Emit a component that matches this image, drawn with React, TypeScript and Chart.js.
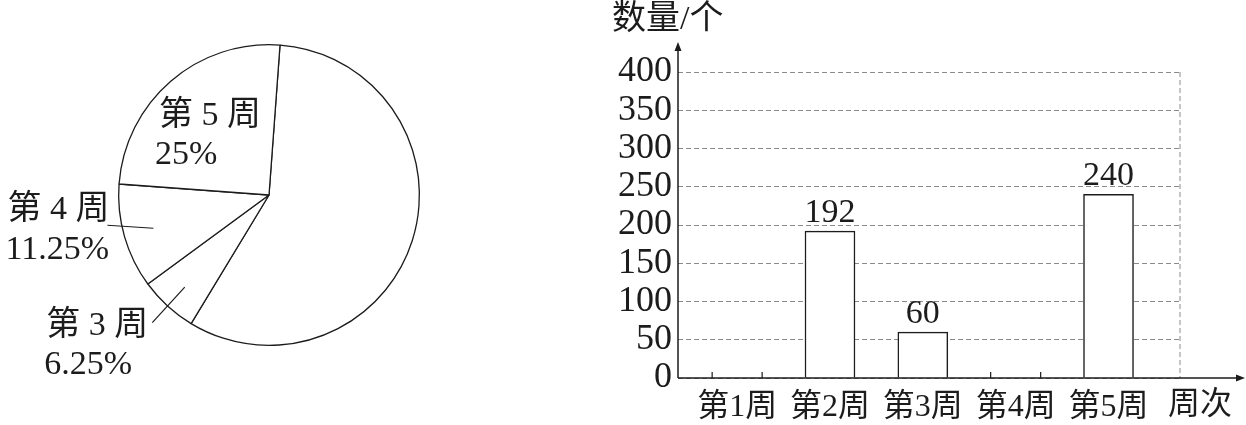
import { useEffect, useRef } from 'react';
import { Chart, registerables, Plugin } from 'chart.js';

Chart.register(...registerables);

// bar chart data
const WEEKS = ['第1周', '第2周', '第3周', '第4周', '第5周'];
const WEEK_COUNTS: (number | null)[] = [null, 192, 60, null, 240];
const Y_TICKS = [0, 50, 100, 150, 200, 250, 300, 350, 400];
const Y_TITLE = '数量/个';
const X_TITLE = '周次';

// pie chart data (first slice is the unlabelled remainder)
const PIE_LABELS = ['', '第 3 周', '第 4 周', '第 5 周'];
const PIE_PERCENTS = [57.5, 6.25, 11.25, 25];

const SERIF = '"Liberation Serif", "Noto Sans CJK SC", serif';
const INK = '#1c1c1c';
const GRID = '#8a8a8a';
const BAR_WIDTH = 50;

const pieLabels: Plugin<'pie'> = {
  id: 'pieLabels',
  afterDraw(chart) {
    const { ctx } = chart;
    const arcs = chart.getDatasetMeta(0).data;
    ctx.save();
    ctx.font = `34px ${SERIF}`;
    ctx.fillStyle = INK;
    ctx.strokeStyle = INK;
    ctx.lineWidth = 1.2;
    ctx.textBaseline = 'middle';
    ctx.textAlign = 'left';
    arcs.forEach((arc, i) => {
      const name = PIE_LABELS[i];
      if (!name) return;
      const p = arc.getProps(['x', 'y', 'startAngle', 'endAngle', 'outerRadius'], true) as any;
      const mid = (p.startAngle + p.endAngle) / 2;
      const at = (k: number) => ({
        x: p.x + Math.cos(mid) * p.outerRadius * k,
        y: p.y + Math.sin(mid) * p.outerRadius * k,
      });
      const pct = `${PIE_PERCENTS[i]}%`;
      if (i === 3) {
        const a = at(0.62);
        ctx.fillText(name, a.x - 49, a.y - 8);
        ctx.fillText(pct, a.x - 53, a.y + 31);
      } else if (i === 2) {
        const a = at(0.8);
        const b = { x: a.x - 46, y: a.y - 3 };
        ctx.beginPath();
        ctx.moveTo(a.x, a.y);
        ctx.lineTo(b.x, b.y);
        ctx.stroke();
        ctx.fillText(name, b.x - 100, b.y - 15);
        ctx.fillText(pct, b.x - 102, b.y + 25);
      } else {
        const a = at(0.83);
        const b = at(1.15);
        ctx.beginPath();
        ctx.moveTo(a.x, a.y);
        ctx.lineTo(b.x, b.y);
        ctx.stroke();
        ctx.fillText(name, b.x - 106, b.y + 3);
        ctx.fillText(pct, b.x - 108, b.y + 42);
      }
    });
    ctx.restore();
  },
};

const barDecor: Plugin<'bar'> = {
  id: 'barDecor',
  afterDraw(chart) {
    const { ctx, chartArea, scales } = chart;
    const { left, right, top, bottom } = chartArea;
    const x = scales.x;
    const y = scales.y;
    ctx.save();

    // dashed right edge of the grid
    ctx.strokeStyle = GRID;
    ctx.lineWidth = 1;
    ctx.setLineDash([5, 3]);
    ctx.beginPath();
    ctx.moveTo(right, top);
    ctx.lineTo(right, bottom);
    ctx.stroke();
    ctx.setLineDash([]);

    // axes with arrows
    const yTip = top - 30;
    const xTip = chart.width - 1;
    ctx.strokeStyle = INK;
    ctx.fillStyle = INK;
    ctx.lineWidth = 1.5;
    ctx.beginPath();
    ctx.moveTo(left, bottom);
    ctx.lineTo(left, yTip + 6);
    ctx.moveTo(left, bottom);
    ctx.lineTo(xTip - 6, bottom);
    ctx.stroke();
    ctx.beginPath();
    ctx.moveTo(left, yTip);
    ctx.lineTo(left - 3.5, yTip + 9);
    ctx.lineTo(left + 3.5, yTip + 9);
    ctx.closePath();
    ctx.moveTo(xTip, bottom);
    ctx.lineTo(xTip - 9, bottom - 3.5);
    ctx.lineTo(xTip - 9, bottom + 3.5);
    ctx.closePath();
    ctx.fill();

    // small marks where the missing bars belong, value labels on the others
    ctx.font = `34px ${SERIF}`;
    ctx.textAlign = 'center';
    ctx.textBaseline = 'alphabetic';
    ctx.lineWidth = 1.2;
    WEEK_COUNTS.forEach((v, i) => {
      const cx = x.getPixelForValue(i);
      if (v === null) {
        ctx.beginPath();
        [cx - BAR_WIDTH / 2, cx + BAR_WIDTH / 2].forEach((px) => {
          ctx.moveTo(px, bottom);
          ctx.lineTo(px, bottom - 6);
        });
        ctx.stroke();
        return;
      }
      ctx.fillText(String(v), cx, y.getPixelForValue(v) - 9);
    });

    // axis titles
    ctx.font = `34px ${SERIF}`;
    ctx.textAlign = 'left';
    ctx.textBaseline = 'middle';
    ctx.fillText(Y_TITLE, 12, 20);
    ctx.font = `32px ${SERIF}`;
    ctx.textAlign = 'center';
    ctx.fillText(X_TITLE, 600, 406);
    ctx.restore();
  },
};

function PieChart() {
  const canvasRef = useRef<HTMLCanvasElement>(null);

  useEffect(() => {
    if (!canvasRef.current) return;
    const chart = new Chart(canvasRef.current, {
      type: 'pie',
      data: {
        labels: PIE_LABELS,
        datasets: [
          {
            data: PIE_PERCENTS,
            backgroundColor: '#ffffff',
            borderColor: INK,
            borderWidth: 1.3,
          },
        ],
      },
      options: {
        responsive: false,
        animation: false,
        rotation: 4.2,
        layout: { padding: { left: 118, right: 30, top: 44, bottom: 79 } },
        plugins: { legend: { display: false }, tooltip: { enabled: false } },
      },
      plugins: [pieLabels],
    });
    return () => chart.destroy();
  }, []);

  return (
    <canvas
      ref={canvasRef}
      width={450}
      height={425}
      style={{ position: 'absolute', left: 0, top: 0, width: 450, height: 425 }}
    />
  );
}

function BarChart() {
  const canvasRef = useRef<HTMLCanvasElement>(null);

  useEffect(() => {
    if (!canvasRef.current) return;
    const chart = new Chart(canvasRef.current, {
      type: 'bar',
      data: {
        datasets: [
          {
            data: WEEK_COUNTS.map((v, i) => ({ x: i, y: v })) as any,
            backgroundColor: '#ffffff',
            borderColor: INK,
            borderWidth: 1.5,
            barThickness: BAR_WIDTH,
          },
        ],
      },
      options: {
        responsive: false,
        animation: false,
        layout: { padding: { left: 0, right: 66, top: 72, bottom: 0 } },
        plugins: { legend: { display: false }, tooltip: { enabled: false } },
        scales: {
          x: {
            type: 'linear',
            offset: false,
            min: -0.637,
            max: 4.77,
            afterBuildTicks: (s) => {
              s.ticks = WEEKS.map((_, i) => ({ value: i }));
            },
            afterFit: (s) => {
              s.height = 47;
            },
            grid: { display: false, drawTicks: false, offset: false },
            border: { display: false },
            ticks: {
              padding: 10,
              color: INK,
              autoSkip: false,
              maxRotation: 0,
              font: { family: SERIF, size: 32 },
              callback: (v) => WEEKS[v as number] ?? '',
            },
          },
          y: {
            min: 0,
            max: 400,
            afterBuildTicks: (s) => {
              s.ticks = Y_TICKS.map((v) => ({ value: v }));
            },
            afterFit: (s) => {
              s.width = 78;
            },
            grid: { color: GRID, lineWidth: 1, drawTicks: false },
            border: { display: false, dash: [5, 3] },
            ticks: {
              padding: 6,
              color: INK,
              autoSkip: false,
              font: { family: SERIF, size: 36 },
            },
          },
        },
      },
      plugins: [barDecor],
    });
    return () => chart.destroy();
  }, []);

  return (
    <canvas
      ref={canvasRef}
      width={646}
      height={425}
      style={{ position: 'absolute', left: 600, top: 0, width: 646, height: 425 }}
    />
  );
}

export default function App() {
  return (
    <div
      style={{
        position: 'fixed',
        left: 0,
        top: 0,
        width: 1246,
        height: 425,
        background: '#ffffff',
        overflow: 'hidden',
      }}
    >
      <PieChart />
      <BarChart />
    </div>
  );
}
